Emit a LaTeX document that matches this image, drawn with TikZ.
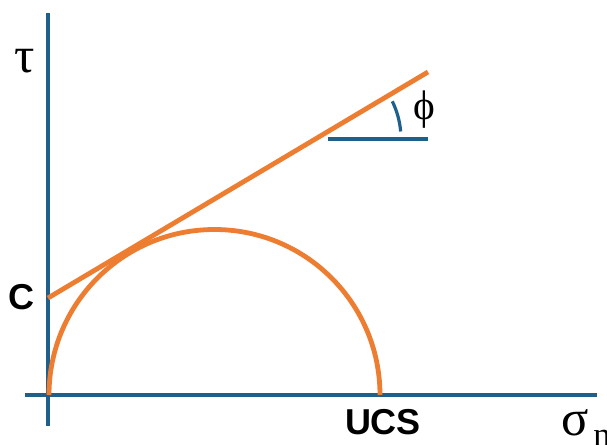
\documentclass[tikz,border=0pt]{standalone}
\usepackage{fontspec}
\setmainfont{Liberation Sans}
\newfontfamily\greekfont{Liberation Serif}
\definecolor{axisblue}{HTML}{1F5F8B}
\definecolor{mcorange}{HTML}{ED7D31}
\begin{document}
\begin{tikzpicture}[x=0.75pt,y=0.75pt,
  axisline/.style={draw=axisblue,line width=3pt},
  envelope/.style={draw=mcorange,line width=3.6pt},
  anglemark/.style={draw=axisblue,line width=2.4pt},
  boldlabel/.style={font=\fontsize{27}{27}\selectfont\bfseries,inner sep=0pt},
  greeklabel/.style={font=\greekfont\fontsize{38}{38}\selectfont,inner sep=0pt}]
\useasboundingbox (0,0) rectangle (607,444);
\clip (0,0) rectangle (607,444);
% axes
\coordinate (ytop) at (48,431);
\coordinate (ybot) at (48,18);
\coordinate (xleft) at (25,49);
\coordinate (xright) at (597,49);
\draw[axisline] (ybot) -- (ytop);
\draw[axisline] (xleft) -- (xright);
% Mohr circle
\coordinate (origin) at (49,49);
\coordinate (ucspt) at (380,49);
\draw[envelope] (origin) arc[start angle=180,end angle=0,radius=165.5];
% failure envelope
\coordinate (cpt) at (48,146);
\coordinate (lineend) at (428,372);
\draw[envelope] (cpt) -- (lineend);
% angle marker
\coordinate (vertex) at (315,305);
\coordinate (baseA) at (328,305);
\coordinate (baseB) at (428,305);
\draw[anglemark] (baseA) -- (baseB);
\draw[anglemark] ([shift={(26:86)}]vertex) arc[start angle=26,end angle=5,radius=86];
% labels
\node[greeklabel,anchor=base] (tau) at (25,372) {τ};
\node[font=\greekfont\fontsize{31}{31}\selectfont,inner sep=0pt] (phi) at (424,334) {ϕ};
\node[boldlabel] (c) at (21,147) {C};
\node[boldlabel] (ucs) at (383,22) {UCS};
\node[greeklabel,anchor=base] (sigma) at (575,9) {σ};
\node[font=\greekfont\fontsize{26}{26}\selectfont,inner sep=0pt,anchor=base west] (n) at (593,-2) {n};
\end{tikzpicture}
\end{document}
